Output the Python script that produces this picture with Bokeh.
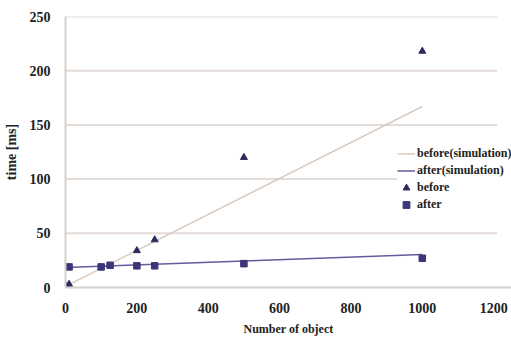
from bokeh.plotting import figure
from bokeh.models import Range1d, Legend, LegendItem, FixedTicker
from bokeh.embed import file_html
from bokeh.resources import INLINE

# data
before_x = [0, 10, 200, 250, 500, 1000]
before_y = [2, 3, 34, 44, 120, 218]
after_x = [10, 100, 125, 200, 250, 500, 1000]
after_y = [19, 19, 20.5, 20, 20, 22, 27]
before_sim_x = [0, 1000]
before_sim_y = [1, 167]
after_sim_x = [0, 1000]
after_sim_y = [18.5, 30.5]
x_ticks = [0, 200, 400, 600, 800, 1000, 1200]
y_ticks = [0, 50, 100, 150, 200, 250]

FONT = "Liberation Serif"
GRID = "#e3dcd8"

p = figure(width=511, height=338, output_backend="svg", toolbar_location=None,
           x_range=Range1d(0, 1250), y_range=Range1d(0, 250),
           min_border_left=62, min_border_right=0, min_border_top=16, min_border_bottom=48)
p.outline_line_color = None
p.xgrid.grid_line_color = None
p.ygrid.grid_line_color = None
p.xaxis.ticker = FixedTicker(ticks=x_ticks)
p.yaxis.ticker = FixedTicker(ticks=y_ticks)

# horizontal grid lines up to the last x tick
gy = y_ticks[1:]
p.segment(x0=[x_ticks[0]] * len(gy), x1=[x_ticks[-1] + 10] * len(gy), y0=gy, y1=gy,
          line_color=GRID, line_width=2)

for ax in (p.xaxis[0], p.yaxis[0]):
    ax.axis_line_color = "#d6cfcb"
    ax.axis_line_width = 2
    ax.major_tick_line_color = None
    ax.minor_tick_line_color = None
    ax.major_label_text_font = FONT
    ax.major_label_text_font_style = "bold"
    ax.major_label_text_font_size = "14px"
    ax.major_label_text_color = "#222222"
    ax.axis_label_text_font = FONT
    ax.axis_label_text_font_style = "bold"
    ax.axis_label_text_color = "#222222"

p.xaxis.axis_label = "Number of object"
p.yaxis.axis_label = "time [ms]"
p.xaxis.axis_label_text_font_size = "12px"
p.yaxis.axis_label_text_font_size = "14px"
p.xaxis.major_label_standoff = 9
p.xaxis.axis_label_standoff = 6
p.yaxis.major_label_standoff = 9
p.yaxis.axis_label_standoff = 8

r1 = p.line(before_sim_x, before_sim_y, line_color="#d9cbbd", line_width=1.5)
r2 = p.line(after_sim_x, after_sim_y, line_color="#6a5a9c", line_width=1.5)
r3 = p.scatter(before_x, before_y, marker="triangle", size=7, color="#2c2b5c")
r4 = p.scatter(after_x, after_y, marker="square", size=6.5, color="#3b3679")

legend = Legend(items=[
    LegendItem(label="before(simulation)", renderers=[r1]),
    LegendItem(label="after(simulation)", renderers=[r2]),
    LegendItem(label="before", renderers=[r3]),
    LegendItem(label="after", renderers=[r4]),
], location=(332, 74))
legend.label_text_font = FONT
legend.label_text_font_style = "bold"
legend.label_text_font_size = "12px"
legend.label_text_color = "#222222"
legend.label_height = 17
legend.glyph_height = 17
legend.glyph_width = 18
legend.label_standoff = 2
legend.spacing = 0
legend.padding = 3
legend.margin = 0
legend.border_line_color = None
legend.background_fill_color = "white"
legend.background_fill_alpha = 1
p.add_layout(legend, "center")

open("out.html", "w").write(file_html(p, INLINE))
